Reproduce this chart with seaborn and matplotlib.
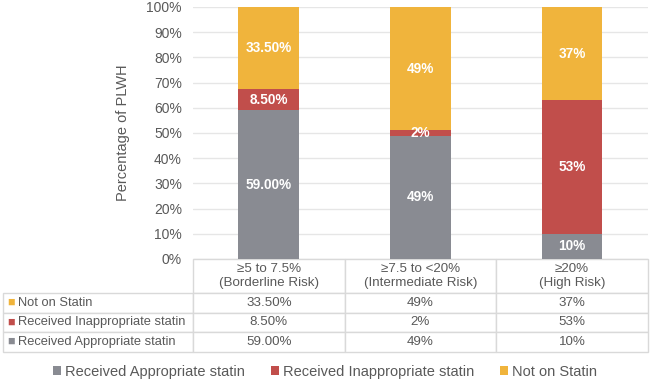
import matplotlib
matplotlib.use("Agg")
import matplotlib.pyplot as plt
import seaborn as sns
import pandas as pd
from matplotlib.table import Table

# --- DATA ---
categories = ["≥5 to 7.5%\n(Borderline Risk)",
              "≥7.5 to <20%\n(Intermediate Risk)",
              "≥20%\n(High Risk)"]
appropriate = [59.0, 49, 10]
inappropriate = [8.5, 2, 53]
not_on_statin = [33.5, 49, 37]
appropriate_txt = ["59.00%", "49%", "10%"]
inappropriate_txt = ["8.50%", "2%", "53%"]
not_on_statin_txt = ["33.50%", "49%", "37%"]

series = [
    ("Received Appropriate statin", appropriate, appropriate_txt, "#898B92"),
    ("Received Inappropriate statin", inappropriate, inappropriate_txt, "#C14E4B"),
    ("Not on Statin", not_on_statin, not_on_statin_txt, "#F0B43C"),
]

sns.set_style("white")
plt.rcParams["font.family"] = ["Liberation Sans", "DejaVu Sans"]
txt_col = "#595959"
line_col = "#D9D9D9"

fig = plt.figure(figsize=(6.5, 3.85), dpi=100)
ax = fig.add_axes([193 / 650, 1 - 259 / 385, 455 / 650, 252 / 385])

# --- STACKED BARS ---
bottoms = [0, 0, 0]
for name, vals, labels, col in series:
    df = pd.DataFrame({"cat": categories, "val": vals})
    sns.barplot(x="cat", y="val", data=df, color=col, width=0.4,
                bottom=bottoms, label=name, ax=ax, saturation=1,
                linewidth=0)
    for i, (v, t) in enumerate(zip(vals, labels)):
        top = min(bottoms[i] + v, 100)
        ax.text(i, (bottoms[i] + top) / 2, t, ha="center", va="center",
                color="white", fontsize=9.8, fontweight="bold")
    bottoms = [b + v for b, v in zip(bottoms, vals)]

ax.set_ylim(0, 100)
ax.set_xlim(-0.5, 2.5)
ax.set_yticks(range(0, 101, 10))
ax.set_yticklabels([f"{t}%" for t in range(0, 101, 10)])
ax.tick_params(axis="y", length=0, pad=8, labelsize=10, labelcolor=txt_col)
ax.set_xticks([])
ax.set_xlabel("")
ax.set_ylabel("Percentage of PLWH", fontsize=10.5, color=txt_col)
ax.yaxis.set_label_coords(-0.138, 0.5)
ax.grid(axis="y", color="#E6E6E6", linewidth=1)
ax.set_axisbelow(True)
for s in ax.spines.values():
    s.set_visible(False)
if ax.get_legend() is not None:
    ax.get_legend().remove()

# --- DATA TABLE ---
W, H = 455.0, 252.0
tbl = Table(ax, bbox=[-190 / W, -93 / H, 645 / W, 93 / H])
tbl.auto_set_font_size(False)
col_w = [190] + [455 / 3] * 3
tbl.add_cell(0, 0, col_w[0], 34, text="", loc="center",
             edgecolor=line_col).visible_edges = ""
for j, c in enumerate(categories):
    tbl.add_cell(0, j + 1, col_w[j + 1], 34, text=c, loc="center",
                 edgecolor=line_col)
for r, (name, vals, labels, col) in enumerate(reversed(series)):
    cell = tbl.add_cell(r + 1, 0, col_w[0], 19.67, text=name, loc="left",
                        edgecolor=line_col)
    cell.PAD = 0.078
    for j, t in enumerate(labels):
        tbl.add_cell(r + 1, j + 1, col_w[j + 1], 19.67, text=t, loc="center",
                     edgecolor=line_col)
for (r, c), cell in tbl.get_celld().items():
    cell.get_text().set_fontsize(9.3 if c == 0 else 9.6)
    cell.get_text().set_color(txt_col)
    cell.get_text().set_linespacing(1.15)
    cell.set_linewidth(1)
ax.add_table(tbl)

# colored squares in row labels
for r, (name, vals, labels, col) in enumerate(reversed(series)):
    y_px = 293 + 19.67 * r + 9.8
    fig.text(11 / 650, 1 - y_px / 385, "■", color=col, fontsize=9,
             ha="center", va="center")

# --- LEGEND ---
handles, names = ax.get_legend_handles_labels()
fig.legend(handles[:3], names[:3], loc="center", ncol=3,
           bbox_to_anchor=(0.5, 1 - 372 / 385), frameon=False,
           fontsize=10.5, handlelength=0.55, handleheight=0.55,
           handletextpad=0.25, columnspacing=1.8, labelcolor=txt_col)

fig.savefig("out.png", dpi=100)
